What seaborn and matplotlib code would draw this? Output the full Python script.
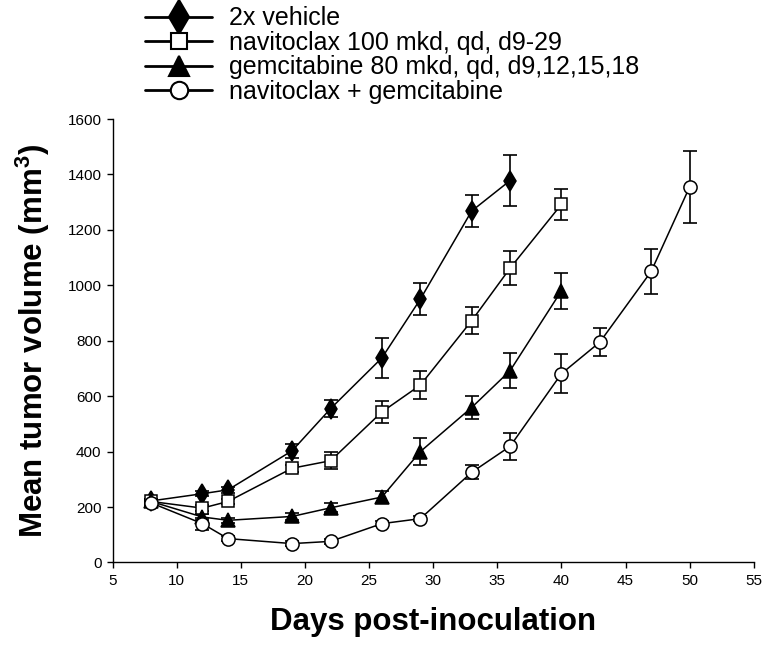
import matplotlib
matplotlib.use("Agg")
import matplotlib.pyplot as plt
from matplotlib.lines import Line2D
import seaborn as sns
import pandas as pd

sns.set_theme(style="ticks")
plt.rcParams['font.family'] = ['Liberation Sans', 'DejaVu Sans']
plt.rcParams['text.color'] = 'black'
plt.rcParams['axes.labelcolor'] = 'black'
plt.rcParams['xtick.color'] = 'black'
plt.rcParams['ytick.color'] = 'black'
plt.rcParams['mathtext.fontset'] = 'custom'
plt.rcParams['mathtext.bf'] = 'Liberation Sans:bold'

series_names = [
    "2x vehicle",
    "navitoclax 100 mkd, qd, d9-29",
    "gemcitabine 80 mkd, qd, d9,12,15,18",
    "navitoclax + gemcitabine",
]

vehicle_days = [8, 12, 14, 19, 22, 26, 29, 33, 36]
vehicle_mean = [222, 248, 262, 403, 555, 738, 950, 1268, 1378]
vehicle_sem = [8, 10, 12, 25, 31, 72, 57, 58, 92]

navi_days = [8, 12, 14, 19, 22, 26, 29, 33, 36, 40]
navi_mean = [220, 196, 220, 340, 367, 543, 640, 872, 1062, 1292]
navi_sem = [8, 12, 10, 12, 30, 40, 52, 48, 62, 55]

gem_days = [8, 12, 14, 19, 22, 26, 29, 33, 36, 40]
gem_mean = [220, 164, 152, 166, 197, 236, 400, 559, 692, 980]
gem_sem = [8, 12, 10, 14, 16, 22, 50, 42, 64, 64]

combo_days = [8, 12, 14, 19, 22, 26, 29, 33, 36, 40, 43, 47, 50]
combo_mean = [215, 140, 86, 68, 76, 140, 158, 325, 419, 681, 795, 1050, 1355]
combo_sem = [8, 22, 8, 8, 8, 8, 8, 25, 48, 70, 50, 80, 130]

markers = ["d", "s", "^", "o"]
facecolors = ["black", "white", "black", "white"]
marker_sizes = [10, 8, 10, 9.5]
legend_marker_sizes = [17.5, 11.5, 15, 12.5]

rows = []
for name, d, m, s in zip(series_names,
                         [vehicle_days, navi_days, gem_days, combo_days],
                         [vehicle_mean, navi_mean, gem_mean, combo_mean],
                         [vehicle_sem, navi_sem, gem_sem, combo_sem]):
    for di, mi, si in zip(d, m, s):
        rows.append({"group": name, "day": di, "volume": mi, "sem": si})
df = pd.DataFrame(rows)

fig = plt.figure(figsize=(7.66, 6.54), dpi=100)
ax = fig.add_axes([0.147, 0.140, 0.837, 0.678])

for i, name in enumerate(series_names):
    sub = df[df["group"] == name]
    ax.errorbar(sub["day"], sub["volume"], yerr=sub["sem"], fmt="none",
                ecolor="black", elinewidth=1.2, capsize=5, capthick=1.2, zorder=2)
    sns.lineplot(data=sub, x="day", y="volume", ax=ax, color="black",
                 linewidth=1.1, marker=markers[i], markersize=marker_sizes[i],
                 markerfacecolor=facecolors[i], markeredgecolor="black",
                 markeredgewidth=1.1, legend=False, zorder=3)

ax.set_xlim(5, 55)
ax.set_ylim(0, 1600)
ax.set_xticks(range(5, 56, 5))
ax.set_yticks(range(0, 1601, 200))
ax.tick_params(axis="both", direction="out", length=4, width=1, colors="black",
               labelsize=11, pad=4)
for sp in ["top", "right"]:
    ax.spines[sp].set_visible(False)
for sp in ["left", "bottom"]:
    ax.spines[sp].set_color("black")
    ax.spines[sp].set_linewidth(1)

ax.set_xlabel("Days post-inoculation", fontsize=22.5, fontweight="bold", labelpad=14)
ax.set_ylabel("Mean tumor volume (mm$\\mathbf{^3}$)", fontsize=22.5, fontweight="bold", labelpad=11)

handles = [Line2D([0], [0], color="black", linewidth=2, marker=markers[i],
                  markersize=legend_marker_sizes[i], markerfacecolor=facecolors[i],
                  markeredgecolor="black", markeredgewidth=1.5)
           for i in range(4)]
fig.legend(handles, series_names, loc="upper left", bbox_to_anchor=(0.186, 0.994),
           frameon=False, fontsize=18, handlelength=2.7, handletextpad=0.65,
           labelspacing=0.02, borderaxespad=0, borderpad=0.1)

fig.savefig("out.png", dpi=100)
